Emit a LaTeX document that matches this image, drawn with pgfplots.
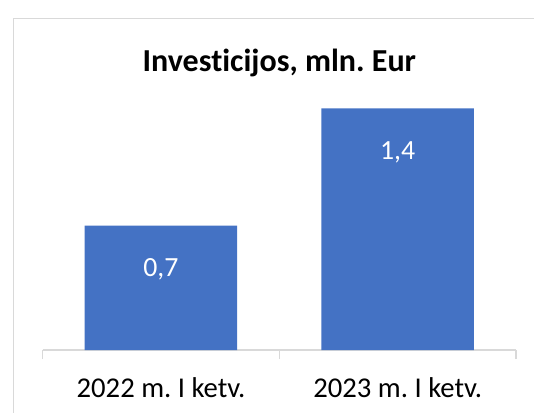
\documentclass[border=0pt]{standalone}
\usepackage{pgfplots}
\pgfplotsset{compat=1.18}
\usepackage{fontspec}
\setmainfont{Carlito}[Ligatures=NoCommon]
\definecolor{barblue}{HTML}{4472C4}
\definecolor{gridgray}{HTML}{D9D9D9}
\frenchspacing
\begin{document}
\frenchspacing
\begin{tikzpicture}
\useasboundingbox (0,0) rectangle (400.5pt,309pt);
\draw[gridgray, line width=1.2pt] (10.2pt,295pt) rectangle (420pt,-20pt);
\begin{axis}[
  at={(31.95pt,46.5pt)}, anchor=south west,
  scale only axis,
  width=355.05pt, height=181.3pt,
  xmin=-0.5, xmax=1.5, ymin=0, ymax=1.4,
  axis x line*=bottom,
  axis y line=none,
  x axis line style={gridgray, line width=0.9pt, -},
  xtick={-0.5,0.5,1.5},
  xticklabels={},
  major tick length=6.8pt,
  tick align=outside,
  tick style={gridgray, line width=0.9pt},
  extra x ticks={0,1},
  extra x tick labels={2022 m. I ketv.,2023 m. I ketv.},
  extra x tick style={major tick length=0pt, tick style={draw=none},
    xticklabel style={anchor=base, yshift=-35.8pt, font=\frenchspacing\fontsize{21.5}{24}\selectfont, text=black}},
  ytick=\empty,
  clip=false,
]
\addplot[ybar, bar width=0.644, fill=barblue, draw=none,
  point meta=explicit symbolic,
  nodes near coords,
  every node near coord/.style={anchor=base, yshift=-38.3pt, text=white, font=\fontsize{20.8}{24}\selectfont}]
  coordinates {(0,0.72)[0,7] (1,1.4)[1,4]};
\end{axis}
\node[anchor=base, font=\bfseries\frenchspacing\fontsize{24}{28}\selectfont] at (209.5pt,255.75pt) {Investicijos, mln. Eur};
\end{tikzpicture}
\end{document}
